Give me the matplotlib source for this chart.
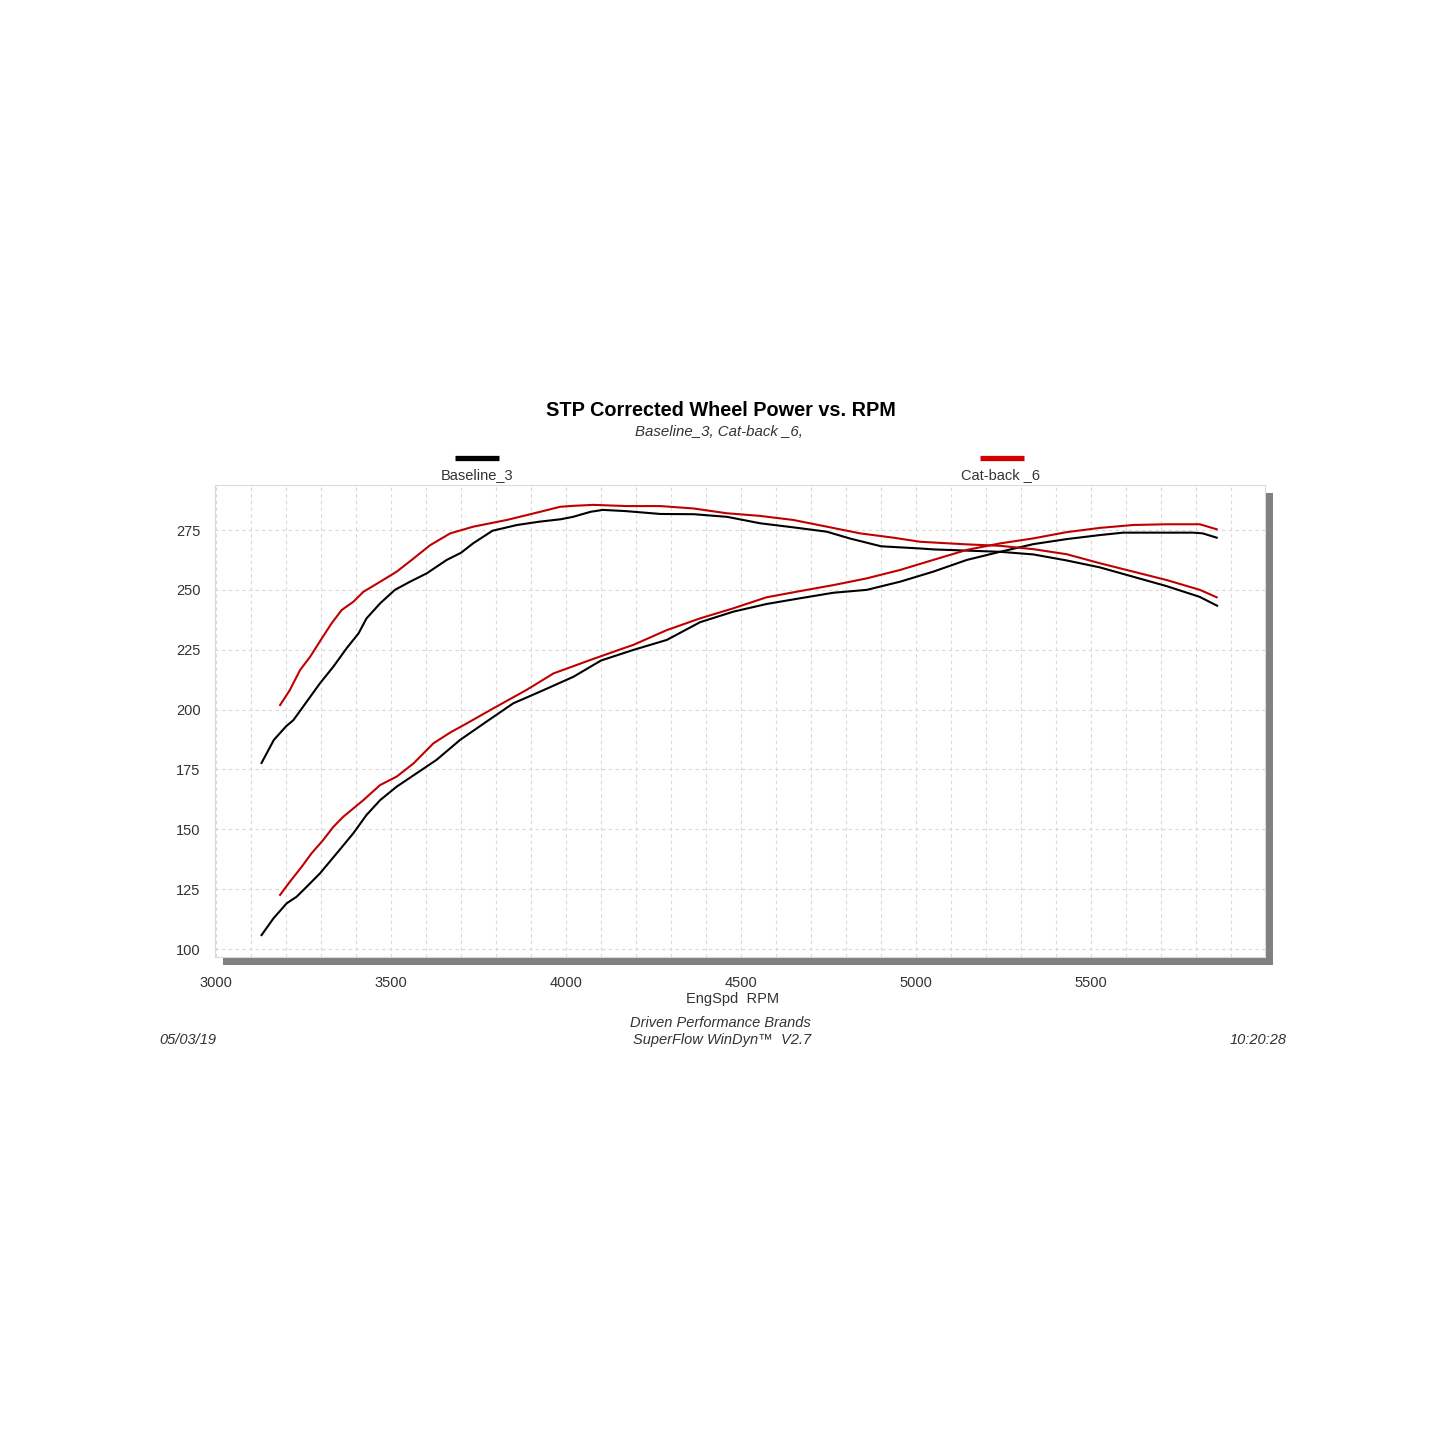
import numpy as np
import matplotlib
matplotlib.use("Agg")
import matplotlib.pyplot as plt
from matplotlib.lines import Line2D
from matplotlib.patches import Rectangle
from matplotlib.transforms import ScaledTranslation

plt.rcParams['font.family'] = ['Liberation Sans', 'DejaVu Sans']

# Baseline_3 torque-like curve (upper black)
base_tq_rpm = [3130, 3165, 3200, 3221, 3259, 3297, 3335, 3373, 3407, 3430, 3469, 3511, 3554, 3602, 3659,
               3700, 3735, 3790, 3860, 3925, 3985, 4020, 4070, 4105, 4170, 4270, 4365, 4460, 4555, 4650,
               4745, 4810, 4840, 4900, 5010, 5050, 5145, 5240, 5335, 5430, 5525, 5620, 5715, 5810, 5860]
base_tq = [177.7, 187.3, 193.0, 195.6, 203.3, 211.0, 217.9, 225.6, 231.8, 238.1, 244.4, 250.0, 253.4, 256.9, 262.5,
           265.5, 269.5, 274.7, 277.1, 278.5, 279.5, 280.5, 282.6, 283.4, 282.9, 281.7, 281.6, 280.5, 277.8, 276.1,
           274.3, 271.5, 270.4, 268.2, 267.3, 266.9, 266.4, 265.9, 264.8, 262.3, 259.4, 255.5, 251.6, 247.1, 243.4]

# Cat-back _6 torque-like curve (upper red)
cat_tq_rpm = [3183, 3211, 3240, 3269, 3302, 3330, 3359, 3392, 3421, 3469, 3516, 3559, 3611, 3669, 3735,
              3831, 3926, 3983, 4021, 4078, 4173, 4269, 4364, 4459, 4554, 4649, 4745, 4840, 4935, 5011,
              5145, 5240, 5335, 5430, 5526, 5621, 5716, 5811, 5859]
cat_tq = [201.9, 208.2, 216.5, 222.1, 229.7, 236.0, 241.6, 245.0, 249.2, 253.4, 257.6, 262.5, 268.6, 273.6, 276.4,
          279.2, 282.6, 284.7, 285.1, 285.5, 285.0, 285.0, 284.0, 282.0, 280.9, 279.2, 276.4, 273.6, 271.8, 270.1,
          269.0, 268.4, 267.0, 264.9, 261.1, 257.6, 254.1, 250.0, 246.9]

# Baseline_3 power curve (lower black)
base_hp_rpm = [3130, 3164, 3202, 3230, 3259, 3297, 3345, 3392, 3430, 3469, 3516, 3573, 3630, 3697, 3773,
               3849, 3926, 4021, 4100, 4192, 4288, 4383, 4478, 4573, 4669, 4764, 4859, 4954, 5049, 5145,
               5240, 5335, 5430, 5526, 5592, 5716, 5792, 5819, 5859]
base_hp = [105.8, 112.8, 119.1, 121.8, 126.0, 131.6, 140.0, 148.3, 156.0, 162.2, 167.8, 173.4, 179.0, 187.3, 195.0,
           202.6, 207.5, 213.7, 220.5, 224.9, 229.1, 236.5, 240.9, 244.1, 246.5, 248.8, 250.0, 253.4, 257.6, 262.5,
           265.9, 269.1, 271.2, 272.9, 273.9, 273.9, 273.9, 273.6, 271.8]

# Cat-back _6 power curve (lower red)
cat_hp_rpm = [3183, 3211, 3245, 3273, 3306, 3335, 3364, 3421, 3469, 3516, 3564, 3621, 3670, 3716, 3792,
              3887, 3964, 4069, 4164, 4192, 4288, 4383, 4478, 4573, 4669, 4764, 4859, 4954, 5049, 5145,
              5240, 5335, 5430, 5526, 5621, 5716, 5811, 5859]
cat_hp = [122.6, 128.1, 134.4, 140.0, 145.5, 151.0, 155.3, 162.2, 168.5, 172.0, 177.5, 185.9, 190.5, 194.2, 200.5,
          208.2, 215.1, 220.7, 225.6, 227.0, 233.2, 238.1, 242.3, 246.9, 249.5, 252.0, 254.8, 258.3, 262.5, 266.7,
          269.4, 271.5, 274.1, 275.9, 277.1, 277.4, 277.4, 275.3]

x_ticks = [3000, 3500, 4000, 4500, 5000, 5500]
y_ticks = [100, 125, 150, 175, 200, 225, 250, 275]

red = '#c00000'
txt = '#333333'

fig = plt.figure(figsize=(14.45, 14.45), dpi=100)
ax = fig.add_axes([215 / 1445, 1 - 957 / 1445, 1050 / 1445, 472 / 1445])

# drop shadow behind the plot box
shadow = Rectangle((0, 0), 1, 1, facecolor='#808080', edgecolor='none', zorder=-1,
                   transform=ax.transAxes + ScaledTranslation(8 / 100, -8 / 100, fig.dpi_scale_trans))
fig.add_artist(shadow)

ax.plot(base_tq_rpm, base_tq, color='black', lw=1.5)
ax.plot(base_hp_rpm, base_hp, color='black', lw=1.5)
ax.plot(cat_tq_rpm, cat_tq, color=red, lw=1.5)
ax.plot(cat_hp_rpm, cat_hp, color=red, lw=1.5)

ax.set_xlim(2997, 5997)
ax.set_ylim(96.66, 293.8)
ax.set_xticks(x_ticks)
ax.set_yticks(y_ticks)
ax.set_xticks(np.arange(3000, 6000, 100), minor=True)
ax.tick_params(which='both', length=0, labelsize=10.5, labelcolor=txt)
ax.tick_params(axis='x', pad=14)
ax.tick_params(axis='y', pad=10.5)
ax.grid(True, which='both', axis='x', color='#d8d8d8', linestyle=(0, (3, 3)), lw=0.8)
ax.grid(True, which='major', axis='y', color='#d8d8d8', linestyle=(0, (3, 3)), lw=0.8)
ax.set_axisbelow(True)
for s in ax.spines.values():
    s.set_color('#dadada')
    s.set_linewidth(0.8)

fig.text(721 / 1445, 1 - 410 / 1445, 'STP Corrected Wheel Power vs. RPM', ha='center', va='center',
         fontsize=14.3, fontweight='bold', color='black')
fig.text(719 / 1445, 1 - 432 / 1445, 'Baseline_3, Cat-back _6,', ha='center', va='center',
         fontsize=10.8, style='italic', color=txt)

# legend bars and names
fig.add_artist(Line2D([455 / 1445, 499 / 1445], [1 - 458 / 1445] * 2, color='black', lw=3.8,
                      solid_capstyle='butt'))
fig.add_artist(Line2D([980 / 1445, 1024 / 1445], [1 - 458 / 1445] * 2, color='#d40000', lw=3.8,
                      solid_capstyle='butt'))
fig.text(477 / 1445, 1 - 475 / 1445, 'Baseline_3', ha='center', va='center', fontsize=10.5, color=txt)
fig.text(1001 / 1445, 1 - 475 / 1445, 'Cat-back _6', ha='center', va='center', fontsize=10.5, color=txt)

fig.text(733 / 1445, 1 - 999 / 1445, 'EngSpd  RPM', ha='center', va='center', fontsize=10.5, color=txt)
fig.text(720 / 1445, 1 - 1023 / 1445, 'Driven Performance Brands', ha='center', va='center',
         fontsize=10.5, style='italic', color=txt)
fig.text(722 / 1445, 1 - 1040 / 1445, 'SuperFlow WinDyn\u2122  V2.7', ha='center', va='center',
         fontsize=10.5, style='italic', color=txt)
fig.text(159 / 1445, 1 - 1040 / 1445, '05/03/19', ha='left', va='center', fontsize=10.5,
         style='italic', color=txt)
fig.text(1287 / 1445, 1 - 1040 / 1445, '10:20:28', ha='right', va='center', fontsize=10.5,
         style='italic', color=txt)

fig.savefig('out.png', dpi=100, facecolor='white')
